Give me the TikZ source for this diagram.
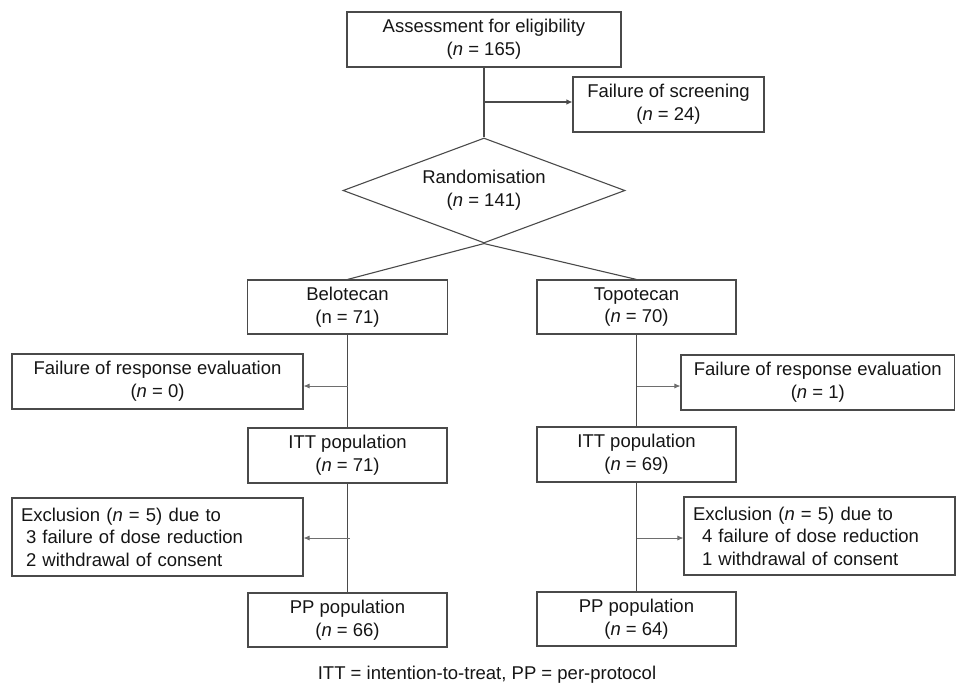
\documentclass[tikz,border=0pt]{standalone}
\usepackage{fontspec}
\setmainfont{Liberation Sans}
\usetikzlibrary{shapes.geometric,arrows.meta}
\definecolor{linec}{HTML}{4A4A4A}
\definecolor{textc}{HTML}{151515}
\begin{document}
\begin{tikzpicture}[x=1pt,y=-1pt,
  every node/.style={text=textc,font=\fontsize{18.5}{22.7}\selectfont},
  box/.style={draw=linec,line width=1.1pt,rectangle,inner sep=0pt,align=center},
  lbox/.style={draw=linec,line width=1.1pt,rectangle,inner ysep=0pt,inner xsep=9pt,align=left,font=\fontsize{18.5}{22.5}\selectfont},
  conn/.style={draw=linec,line width=1.1pt},
  arr/.style={draw=linec!80,line width=0.8pt,-{Latex[length=6pt,width=5pt]}},
  arrmain/.style={draw=linec,line width=1.1pt,-{Latex[length=6pt,width=5.5pt]}}]
\useasboundingbox (0,0) rectangle (956,686);
\node[box,minimum width=274pt,minimum height=55pt] (assess) at (484,39.5) {Assessment for eligibility\\(\textit{n} = 165)};
\node[box,minimum width=191pt,minimum height=55pt] (screen) at (668.5,104.5) {Failure of screening\\(\textit{n} = 24)};
\node[box,diamond,aspect=2.686,minimum width=282pt,minimum height=105pt] (rand) at (484,190.5) {Randomisation\\(\textit{n} = 141)};
\node[box,minimum width=200pt,minimum height=54pt] (belo) at (347.5,307) {Belotecan\\(n = 71)};
\node[box,minimum width=199pt,minimum height=54pt] (topo) at (636.5,307) {Topotecan\\(\textit{n} = 70)};
\node[box,minimum width=291pt,minimum height=55pt] (failL) at (157.5,381.5) {Failure of response evaluation\\(\textit{n} = 0)};
\node[box,minimum width=273.5pt,minimum height=55pt] (failR) at (817.75,382.5) {Failure of response evaluation\\(\textit{n} = 1)};
\node[box,minimum width=199pt,minimum height=55pt] (ittL) at (347.5,455.5) {ITT population\\(\textit{n} = 71)};
\node[box,minimum width=199pt,minimum height=55pt] (ittR) at (636.5,454.5) {ITT population\\(\textit{n} = 69)};
\node[lbox,text width=273pt,minimum height=78pt] (exclL) at (157.5,537) {Exclusion (\textit{n} = 5) due to\\\hspace*{5pt}3 failure of dose reduction\\\hspace*{5pt}2 withdrawal of consent};
\node[lbox,text width=253pt,minimum height=78pt] (exclR) at (819.5,536) {Exclusion (\textit{n} = 5) due to\\\hspace*{9pt}4 failure of dose reduction\\\hspace*{9pt}1 withdrawal of consent};
\node[box,minimum width=199pt,minimum height=54pt] (ppL) at (347.5,620) {PP population\\(\textit{n} = 66)};
\node[box,minimum width=199pt,minimum height=54pt] (ppR) at (636.5,619) {PP population\\(\textit{n} = 64)};
\node (foot) at (487,675) {ITT = intention-to-treat, PP = per-protocol};
\coordinate (cS) at (484,102);
\coordinate (cFL) at (347.5,386);
\coordinate (cFR) at (636.5,386);
\coordinate (cEL) at (349.5,538);
\coordinate (cER) at (636.5,538);
\draw[conn] (assess.south) -- (rand.north);
\draw[arrmain] (cS) -- (cS -| screen.west);
\draw[conn] (rand.south) -- (belo.north);
\draw[conn] (rand.south) -- (topo.north);
\draw[conn] (belo.south) -- (ittL.north);
\draw[conn] (ittL.south) -- (ppL.north);
\draw[conn] (topo.south) -- (ittR.north);
\draw[conn] (ittR.south) -- (ppR.north);
\draw[arr] (cFL) -- (cFL -| failL.east);
\draw[arr] (cFR) -- (cFR -| failR.west);
\draw[arr] (cEL) -- (cEL -| exclL.east);
\draw[arr] (cER) -- (cER -| exclR.west);
\end{tikzpicture}
\end{document}
